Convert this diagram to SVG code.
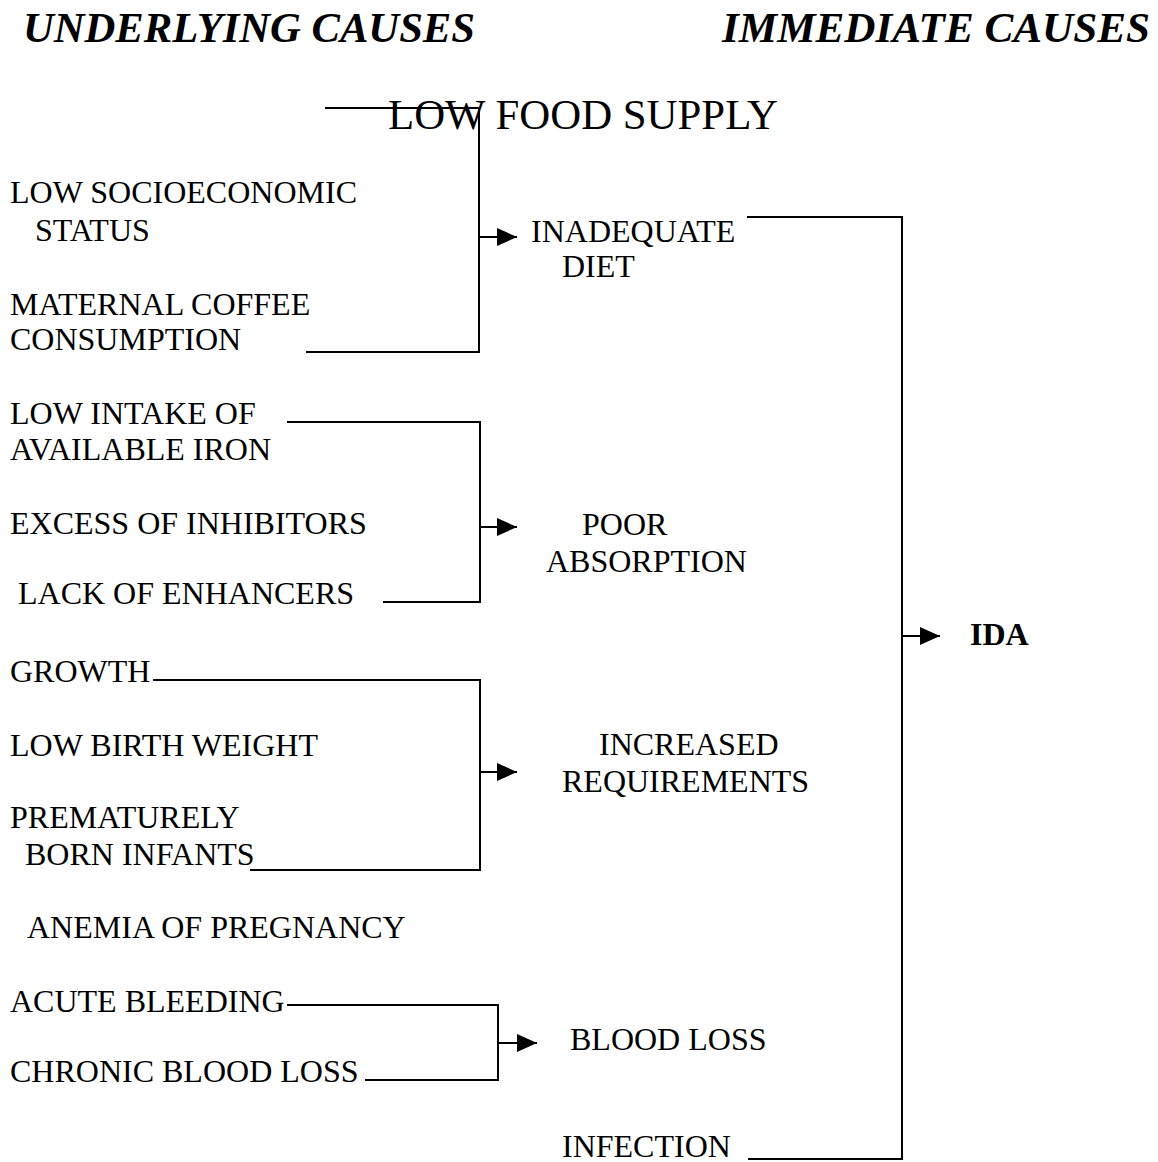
<svg xmlns="http://www.w3.org/2000/svg" width="1158" height="1162" viewBox="0 0 1158 1162">
<style>
text{font-family:"Liberation Serif","Times New Roman",serif;font-size:32px;fill:#000}
.title{font-size:42px;font-weight:bold;font-style:italic}
.big{font-size:43px}
.bold{font-weight:bold}
.ln{fill:none;stroke:#000;stroke-width:2}
</style>
<defs>
<marker id="ah" markerUnits="userSpaceOnUse" markerWidth="20" markerHeight="18" refX="20" refY="9" orient="auto">
<path d="M0,0 L20,9 L0,18 Z" fill="#000"/>
</marker>
</defs>
<rect width="1158" height="1162" fill="#fff"/>
<g id="titles">
<text class="title" x="23" y="42" textLength="452" lengthAdjust="spacingAndGlyphs">UNDERLYING CAUSES</text>
<text class="title" x="722" y="42" textLength="428" lengthAdjust="spacingAndGlyphs">IMMEDIATE CAUSES</text>
</g>
<g id="connectors">
<path class="ln" d="M325,108 H479 V352 H306"/>
<path class="ln" d="M479,237 H517" marker-end="url(#ah)"/>
<path class="ln" d="M287,422 H480 V602 H383"/>
<path class="ln" d="M480,527 H517" marker-end="url(#ah)"/>
<path class="ln" d="M153,680 H480 V870 H250"/>
<path class="ln" d="M480,772 H517" marker-end="url(#ah)"/>
<path class="ln" d="M287,1005 H498 V1080 H365"/>
<path class="ln" d="M498,1043 H537" marker-end="url(#ah)"/>
<path class="ln" d="M747,217 H902 V1159 H748"/>
<path class="ln" d="M902,636 H940" marker-end="url(#ah)"/>
</g>
<g id="low-food-supply"><text class="big" x="388" y="129" textLength="390" lengthAdjust="spacingAndGlyphs">LOW FOOD SUPPLY</text></g>
<g id="low-socioeconomic"><text x="10" y="203">LOW SOCIOECONOMIC</text><text x="35" y="241">STATUS</text></g>
<g id="maternal-coffee"><text x="10" y="315">MATERNAL COFFEE</text><text x="10" y="350">CONSUMPTION</text></g>
<g id="low-intake"><text x="10" y="424">LOW INTAKE OF</text><text x="10" y="460">AVAILABLE IRON</text></g>
<g id="excess-inhibitors"><text x="10" y="534">EXCESS OF INHIBITORS</text></g>
<g id="lack-enhancers"><text x="18" y="604">LACK OF ENHANCERS</text></g>
<g id="growth"><text x="10" y="682">GROWTH</text></g>
<g id="low-birth-weight"><text x="10" y="756">LOW BIRTH WEIGHT</text></g>
<g id="premature"><text x="10" y="828">PREMATURELY</text><text x="25" y="865">BORN INFANTS</text></g>
<g id="anemia-pregnancy"><text x="27" y="938">ANEMIA OF PREGNANCY</text></g>
<g id="acute-bleeding"><text x="10" y="1012">ACUTE BLEEDING</text></g>
<g id="chronic-blood-loss"><text x="10" y="1082">CHRONIC BLOOD LOSS</text></g>
<g id="inadequate-diet"><text x="531" y="242">INADEQUATE</text><text x="562" y="277">DIET</text></g>
<g id="poor-absorption"><text x="582" y="535">POOR</text><text x="546" y="572">ABSORPTION</text></g>
<g id="increased-requirements"><text x="599" y="755">INCREASED</text><text x="562" y="792">REQUIREMENTS</text></g>
<g id="blood-loss"><text x="570" y="1050">BLOOD LOSS</text></g>
<g id="infection"><text x="562" y="1157">INFECTION</text></g>
<g id="ida"><text class="bold" x="970" y="645">IDA</text></g>
</svg>
